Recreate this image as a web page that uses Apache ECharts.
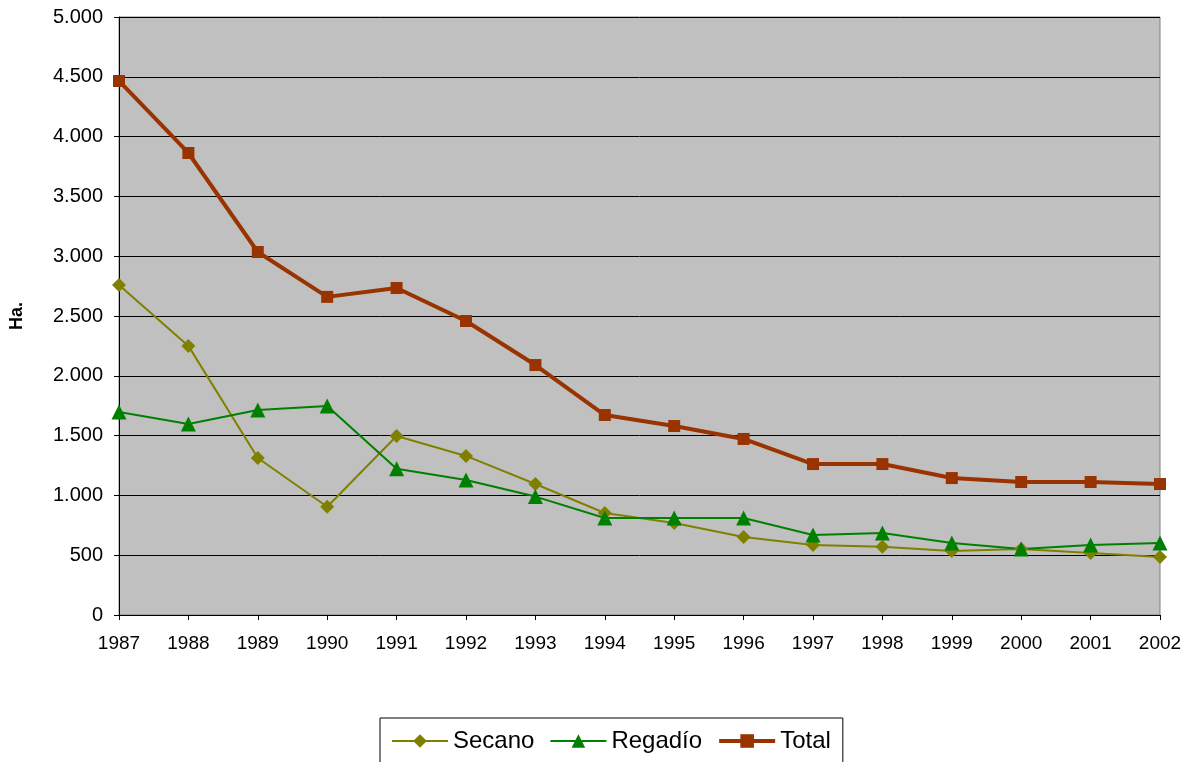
<!doctype html>
<html>
<head>
  <meta charset="UTF-8" />
  <title>Superficie</title>
  <script src="https://cdn.jsdelivr.net/npm/echarts@6.0.0/dist/echarts.min.js"></script>
  <style>
    html, body { margin: 0; padding: 0; background: #ffffff; }
    #chart { width: 1192px; height: 762px; }
  </style>
</head>
<body>
  <div id="chart"></div>
  <script>
    const years = ["1987", "1988", "1989", "1990", "1991", "1992", "1993", "1994",
      "1995", "1996", "1997", "1998", "1999", "2000", "2001", "2002"];
    const secano = [2760, 2250, 1313, 905, 1497, 1330, 1095, 853, 770, 652, 585, 570, 535, 552, 518, 485];
    const regadio = [1697, 1597, 1714, 1748, 1222, 1129, 990, 811, 811, 811, 669, 686, 602, 552, 585, 602];
    const total = [4465, 3863, 3035, 2660, 2734, 2458, 2090, 1672, 1580, 1472, 1262, 1262, 1145, 1112, 1112, 1095];

    const chart = echarts.init(document.getElementById("chart"));
    const fmt = (v) => String(v).replace(/\B(?=(\d{3})+(?!\d))/g, ".");
    const font = "Liberation Sans";

    chart.setOption({
      animation: false,
      textStyle: { fontFamily: font },
      grid: {
        left: 119, right: 32, top: 17, bottom: 147,
        show: true, backgroundColor: "#c0c0c0",
        borderColor: "#808080", borderWidth: 1
      },
      legend: {
        top: 718,
        left: 380,
        itemWidth: 56,
        itemHeight: 17,
        itemGap: 15,
        padding: [11, 12, 20, 11],
        borderColor: "#000000",
        borderWidth: 1,
        textStyle: { fontSize: 24, color: "#000", fontFamily: font },
        data: [
          { name: "Secano" },
          { name: "Regadío" },
          { name: "Total", lineStyle: { width: 4 } }
        ]
      },
      xAxis: {
        type: "category",
        data: years,
        boundaryGap: false,
        axisLine: { lineStyle: { color: "#000" } },
        axisTick: { show: true, alignWithLabel: true, length: 5, lineStyle: { color: "#000" } },
        axisLabel: { color: "#000", fontSize: 19, margin: 19, interval: 0 },
        splitLine: { show: false }
      },
      yAxis: {
        type: "value",
        min: 0, max: 5000, interval: 500,
        name: "Ha.",
        nameLocation: "middle",
        nameGap: 93,
        nameTextStyle: { fontSize: 18, fontWeight: "bold", color: "#000" },
        axisLine: { show: true, lineStyle: { color: "#000" } },
        axisTick: { show: true, length: 5, lineStyle: { color: "#000" } },
        axisLabel: { color: "#000", fontSize: 20, margin: 16, formatter: fmt },
        splitLine: { show: true, lineStyle: { color: "#000", width: 1 } }
      },
      series: [
        {
          name: "Secano", type: "line", data: secano,
          symbol: "diamond", symbolSize: 14,
          lineStyle: { color: "#808000", width: 2 },
          itemStyle: { color: "#808000" }
        },
        {
          name: "Regadío", type: "line", data: regadio,
          symbol: "triangle", symbolSize: 15,
          lineStyle: { color: "#008000", width: 2 },
          itemStyle: { color: "#008000" }
        },
        {
          name: "Total", type: "line", data: total,
          symbol: "rect", symbolSize: 12,
          lineStyle: { color: "#993300", width: 4 },
          itemStyle: { color: "#993300" }
        }
      ]
    });
  </script>
</body>
</html>
